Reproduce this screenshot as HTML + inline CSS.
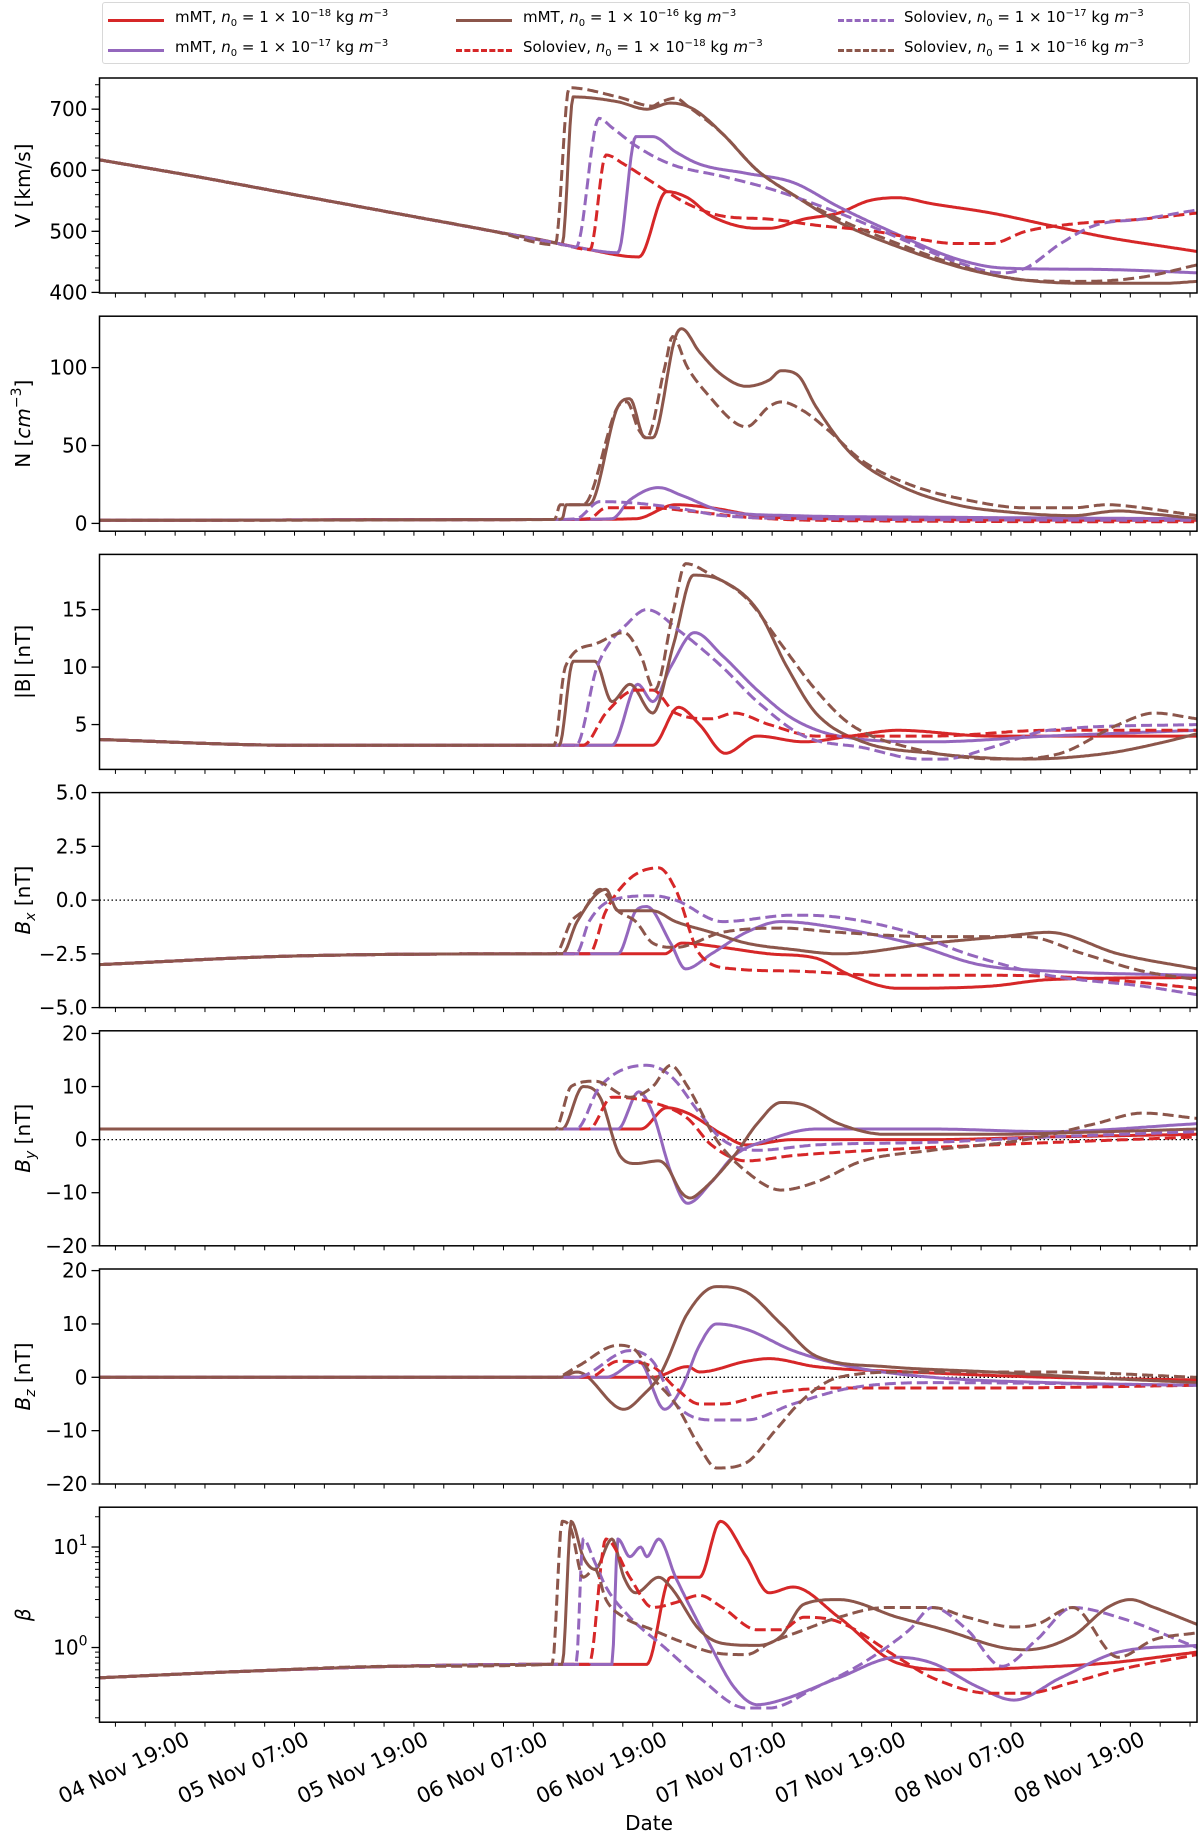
<!DOCTYPE html>
<html><head><meta charset="utf-8">
<style>
html,body{margin:0;padding:0;background:#fff;}
body{width:1200px;height:1836px;position:relative;overflow:hidden;font-family:"DejaVu Sans","Liberation Sans",sans-serif;}
#legend{position:absolute;left:102px;top:2px;width:1088px;height:62px;border:1px solid #d8d8d8;border-radius:3px;box-sizing:border-box;}
.le{position:absolute;font-size:15px;color:#000;white-space:nowrap;}
.ls{position:absolute;width:56px;height:0;border-top:3px solid;}
.le sup{font-size:10px;}
.le sub{font-size:10px;}
</style></head>
<body>
<div id="legend">
  <div class="ls" style="left:5px;top:16px;border-color:#d62728"></div>
  <div class="le" style="left:72px;top:5px">mMT, <i>n</i><sub>0</sub> = 1 × 10<sup>−18</sup> kg <i>m</i><sup>−3</sup></div>
  <div class="ls" style="left:5px;top:46px;border-color:#9467bd"></div>
  <div class="le" style="left:72px;top:35px">mMT, <i>n</i><sub>0</sub> = 1 × 10<sup>−17</sup> kg <i>m</i><sup>−3</sup></div>
  <div class="ls" style="left:353px;top:16px;border-color:#8c564b"></div>
  <div class="le" style="left:420px;top:5px">mMT, <i>n</i><sub>0</sub> = 1 × 10<sup>−16</sup> kg <i>m</i><sup>−3</sup></div>
  <div class="ls" style="left:353px;top:46px;border-color:#d62728;border-top-style:dashed"></div>
  <div class="le" style="left:420px;top:35px">Soloviev, <i>n</i><sub>0</sub> = 1 × 10<sup>−18</sup> kg <i>m</i><sup>−3</sup></div>
  <div class="ls" style="left:735px;top:16px;border-color:#9467bd;border-top-style:dashed"></div>
  <div class="le" style="left:801px;top:5px">Soloviev, <i>n</i><sub>0</sub> = 1 × 10<sup>−17</sup> kg <i>m</i><sup>−3</sup></div>
  <div class="ls" style="left:735px;top:46px;border-color:#8c564b;border-top-style:dashed"></div>
  <div class="le" style="left:801px;top:35px">Soloviev, <i>n</i><sub>0</sub> = 1 × 10<sup>−16</sup> kg <i>m</i><sup>−3</sup></div>
</div>
<svg id="chart" width="1200" height="1836" style="position:absolute;left:0;top:0"></svg>
<script>
// ---- time axis (hours since 04 Nov 00:00) ----
const tMin = 10.4, tMax = 120.7;
const xTickHours = [19,31,43,55,67,79,91,103,115];
const xTickLabels = ["04 Nov 19:00","05 Nov 07:00","05 Nov 19:00","06 Nov 07:00","06 Nov 19:00","07 Nov 07:00","07 Nov 19:00","08 Nov 07:00","08 Nov 19:00"];

// ---- V ----
const vBg = [[10.4,617],[20,590],[30,560],[40,530],[50,500],[56.5,480]];
const vMmt18 = [[59.0,472],[64.6,458],[67.4,565],[69.5,555],[71.9,525],[76.5,505],[77.7,505],[81.2,520],[84.7,530],[87.7,550],[90.6,555],[94.1,545],[100.0,530],[105.8,510],[111.7,490],[117.5,475],[120.7,467]];
const vMmt17 = [[58.3,474],[62.5,465],[64.3,655],[66.0,655],[68.3,630],[70.7,610],[75.4,595],[80.1,580],[84.7,540],[90.6,495],[96.5,455],[101.1,440],[108.2,438],[112.8,437],[120.7,432]];
const vMmt16 = [[56.9,478],[58.0,720],[62.5,712],[65.4,700],[67.8,710],[70.1,700],[73.0,660],[76.5,600],[80.1,560],[84.7,515],[90.6,475],[97.6,438],[103.5,420],[109.3,415],[117.5,415],[120.7,418]];
const vSol18 = [[59.7,470],[61.3,625],[63.1,610],[66.0,580],[69.5,545],[73.0,525],[77.7,520],[82.4,510],[88.3,500],[91.8,490],[96.5,480],[100.0,480],[103.5,500],[108.2,512],[115.2,520],[120.7,530]];
const vSol17 = [[58.3,474],[60.6,685],[61.9,670],[64.3,640],[67.8,610],[73.0,590],[77.7,570],[84.7,530],[90.6,490],[96.5,450],[101.1,432],[103.5,440],[107.0,480],[110.5,510],[115.2,520],[120.7,535]];
const vSol16 = [[56.2,478],[57.6,735],[62.5,720],[66.0,705],[66.6,710],[68.3,718],[69.5,705],[73.0,660],[76.5,600],[80.1,560],[84.7,520],[90.6,480],[97.6,440],[103.5,420],[109.3,418],[115.2,425],[120.7,445]];

// ---- N ----
const nBg = [[10.4,2],[56,2.5]];
const nMmt18 = [[64.3,3],[68.3,12],[71.9,10],[76.5,5],[82.4,3],[120.7,2]];
const nMmt17 = [[61.9,3],[63.7,15],[66.6,23],[68.9,18],[73.0,8],[80.1,5],[94.1,4],[120.7,3]];
const nMmt16 = [[56.9,3],[57.3,12],[59.6,12],[62.5,75],[63.7,80],[65.2,55],[66.0,55],[68.3,120],[68.9,125],[70.7,110],[73.0,95],[75.4,88],[77.7,92],[78.9,98],[80.6,95],[82.4,75],[85.9,45],[90.6,25],[96.5,12],[102.3,7],[108.2,5],[112.8,8],[116.4,6],[120.7,3]];
const nSol18 = [[59.6,3],[61.3,10],[66.0,10],[69.5,8],[75.4,4],[82.4,2],[120.7,1]];
const nSol17 = [[58.3,3],[60.7,14],[64.3,13],[68.3,10],[73.0,5],[82.4,3],[120.7,2]];
const nSol16 = [[56.2,3],[56.7,12],[59.0,12],[62.5,75],[63.4,78],[64.6,60],[65.4,55],[67.2,100],[68.0,120],[69.5,100],[71.9,80],[74.2,65],[75.4,62],[77.7,75],[78.9,78],[81.2,72],[83.6,60],[87.1,40],[91.8,25],[97.6,15],[103.5,10],[108.2,10],[111.7,12],[115.2,10],[120.7,5]];

// ---- |B| ----
const bBg = [[10.4,3.7],[30,3.2],[56,3.2]];
const bMmt18 = [[66.0,3.2],[68.6,6.5],[70.7,5],[73.3,2.5],[76.5,4],[81.2,3.5],[85.9,4],[90.6,4.5],[100.0,4],[120.7,4]];
const bMmt17 = [[61.9,3.2],[64.5,8.5],[66.0,7],[67.8,10],[70.2,13],[73.0,11],[76.5,8],[80.1,5.5],[84.7,4],[94.1,3.5],[105.8,4],[120.7,4.5]];
const bMmt16 = [[56.6,3.2],[58.0,10.5],[60.2,10.5],[61.9,7],[63.7,8.5],[66.0,6],[68.1,12],[70.1,18],[73.0,17.5],[76.5,15],[79.5,10],[82.4,6],[87.1,3.5],[94.1,2.5],[103.5,2],[111.7,2.5],[117.5,3.5],[120.7,4.2]];
const bSol18 = [[59.0,3.2],[61.3,6],[64.3,8],[66.0,8],[68.3,6],[71.9,5.5],[74.2,6],[77.7,5],[82.4,4],[94.1,4],[105.8,4.5],[120.7,4.5]];
const bSol17 = [[58.3,3.2],[60.4,10],[63.7,14],[65.4,15],[68.9,13],[73.0,10],[76.5,7],[81.2,4],[87.1,3],[93.0,2],[95.3,2],[100.0,3],[105.8,4.5],[120.7,5]];
const bSol16 = [[56.1,3.2],[57.2,10],[60.2,12],[63.1,13],[64.8,11],[66.2,8],[68.1,15],[69.3,19],[71.9,18],[75.4,16],[78.9,12],[82.4,8],[85.9,5],[91.8,3],[101.1,2],[107.0,2.5],[112.8,5],[116.4,6],[120.7,5.5]];

// ---- Bx ----
const bxBg = [[10.4,-3.0],[30,-2.6],[56,-2.5]];
const bxMmt18 = [[59.0,-2.5],[64.8,-2.5],[67.2,-2.5],[68.9,-2.0],[73.0,-2.2],[77.7,-2.5],[82.4,-2.7],[85.9,-3.5],[90.6,-4.1],[100.0,-4.0],[105.8,-3.7],[120.7,-3.6]];
const bxMmt17 = [[62.5,-2.5],[64.3,-0.5],[65.4,-0.3],[67.8,-2],[69.3,-3.2],[71.9,-2.5],[75.4,-1.5],[78.9,-1.0],[84.7,-1.3],[91.8,-2],[98.8,-3],[105.8,-3.3],[120.7,-3.5]];
const bxMmt16 = [[56.9,-2.5],[58.4,-1],[61.3,0.5],[62.5,-0.5],[66.0,-0.5],[68.3,-1],[71.9,-1.5],[75.4,-2],[80.1,-2.3],[84.7,-2.5],[94.1,-2.0],[101.1,-1.7],[105.8,-1.5],[112.8,-2.5],[120.7,-3.2]];
const bxSol18 = [[59.6,-2.5],[61.3,-0.5],[63.7,1],[66.6,1.5],[68.3,0.5],[70.7,-2.5],[74.2,-3.2],[80.1,-3.3],[89.4,-3.5],[101.1,-3.5],[111.7,-3.7],[120.7,-4.1]];
const bxSol17 = [[58.3,-2.5],[59.6,-1],[61.9,0],[66.0,0.2],[68.3,0],[73.0,-1],[80.1,-0.7],[84.7,-0.8],[91.8,-1.5],[97.6,-2.5],[105.8,-3.5],[115.2,-4],[120.7,-4.4]];
const bxSol16 = [[56.2,-2.5],[57.8,-1],[59.0,-0.5],[60.7,0.5],[62.5,-0.5],[64.3,-1],[66.0,-2],[68.3,-2.2],[73.0,-1.5],[78.9,-1.3],[84.7,-1.5],[94.1,-1.7],[103.5,-1.7],[109.3,-2.5],[115.2,-3.3],[120.7,-3.7]];

// ---- By ----
const byBg = [[10.4,2],[56,2]];
const byMmt18 = [[64.8,2],[67.4,6],[69.5,5],[73.0,1],[75.4,-1],[80.1,0],[94.1,0],[105.8,0.5],[120.7,1]];
const byMmt17 = [[62.5,2],[64.6,9],[66.0,5],[67.8,-6],[69.5,-12],[71.9,-8],[74.2,-3],[77.7,0],[82.4,2],[94.1,2],[105.8,1.5],[120.7,3]];
const byMmt16 = [[56.9,2],[59.0,10],[60.7,8],[62.7,-3],[64.3,-4.5],[66.6,-4],[67.4,-5],[68.9,-10],[69.8,-11],[70.7,-10],[74.2,-3],[76.5,3],[78.9,7],[81.2,6.5],[84.7,3],[89.4,1],[100.0,1],[111.7,1.5],[120.7,2]];
const bySol18 = [[59.6,2],[61.9,8],[66.0,7],[69.5,4],[71.9,-1],[75.4,-4],[80.1,-3],[88.3,-2],[100.0,-1],[120.7,0.5]];
const bySol17 = [[58.3,2],[60.7,10],[65.4,14],[67.8,12],[70.7,5],[73.0,0],[76.5,-2],[82.4,-1],[94.1,-0.5],[105.8,0.5],[120.7,1.5]];
const bySol16 = [[56.2,2],[57.8,10],[60.2,11],[63.7,8],[66.0,10],[67.8,14],[69.5,10],[72.4,0],[75.4,-6],[78.9,-9.5],[82.4,-8],[87.1,-4],[94.1,-2],[103.5,0],[110.5,3],[115.2,5],[120.7,4]];

// ---- Bz ----
const bzBg = [[10.4,0],[56,0]];
const bzMmt18 = [[66.0,0],[69.5,2],[70.7,1],[75.4,3],[77.7,3.5],[82.4,2],[91.8,1],[105.8,0],[120.7,-0.5]];
const bzMmt17 = [[61.3,0],[64.6,3],[67.2,-6],[68.9,-2],[70.7,6],[72.4,10],[75.4,9],[80.1,5],[85.9,2],[94.1,0],[105.8,-1],[120.7,-1.5]];
const bzMmt16 = [[56.6,0],[58.4,1],[63.1,-6],[65.2,-3],[66.6,0],[67.4,3],[69.5,12],[72.4,17],[75.4,16],[78.9,10],[82.4,4],[89.4,2],[100.0,1],[109.3,0],[120.7,-1]];
const bzSol18 = [[59.6,0],[62.5,3],[66.0,2],[68.3,-2],[70.7,-5],[73.0,-5],[77.7,-3],[84.7,-2],[100.0,-2],[120.7,-1.5]];
const bzSol17 = [[58.3,0],[63.7,5],[66.0,3],[68.3,-5],[71.9,-8],[75.4,-8],[80.1,-5],[85.9,-2],[94.1,-1],[120.7,-1.5]];
const bzSol16 = [[56.2,0],[58.4,2],[62.5,6],[64.3,5],[66.0,0],[68.3,-5],[70.7,-13],[72.4,-17],[75.4,-16],[78.3,-10],[81.2,-4],[84.7,0],[91.8,1],[105.8,1],[120.7,0]];

// ---- beta ----
const beBg = [[10.4,0.5],[25,0.58],[40,0.65],[55.9,0.68]];
const beMmt18 = [[65.4,0.68],[67.8,5],[70.7,5],[72.8,18],[75.4,8],[77.7,3.5],[80.1,4],[84.7,2],[90.6,0.7],[96.5,0.6],[103.5,0.63],[111.7,0.7],[120.7,0.9]];
const beMmt17 = [[61.9,0.68],[62.5,12],[63.7,8],[64.8,10],[65.4,8],[66.6,12],[68.3,5],[71.9,1],[74.2,0.4],[76.5,0.27],[78.9,0.3],[84.7,0.5],[90.6,0.8],[94.1,0.7],[98.8,0.4],[102.3,0.3],[107.0,0.5],[112.8,0.9],[120.7,1.05]];
const beMmt16 = [[56.9,0.68],[57.8,18],[59.0,8],[60.2,6],[61.9,12],[63.1,5],[64.3,3.5],[66.6,5],[67.8,4],[70.7,1.5],[73.0,1.1],[76.5,1.05],[78.9,1.3],[81.2,2.7],[84.7,3],[90.6,2],[95.3,1.5],[101.1,1.0],[103.5,0.95],[108.2,1.3],[111.7,2.5],[114.0,3],[116.4,2.5],[120.7,1.7]];
const beSol18 = [[59.6,0.68],[61.3,12],[63.7,5],[66.0,2.5],[68.3,2.8],[70.7,3.3],[73.0,2.5],[76.5,1.5],[78.9,1.5],[81.2,2],[84.7,1.8],[90.6,0.8],[94.1,0.5],[100.0,0.35],[103.5,0.35],[108.2,0.45],[112.8,0.6],[120.7,0.85]];
const beSol17 = [[58.3,0.68],[59.0,12],[60.2,7],[61.3,4],[63.7,2],[67.2,1],[70.7,0.5],[75.4,0.25],[77.7,0.25],[82.4,0.4],[87.1,0.7],[91.8,1.5],[94.1,2.5],[97.6,1.5],[101.1,0.65],[104.6,1.2],[108.2,2.5],[112.8,2],[120.7,1.0]];
const beSol16 = [[55.9,0.68],[56.9,18],[57.8,15],[59.0,5],[60.2,6],[61.3,3],[63.1,2],[66.0,1.5],[68.3,1.2],[71.9,0.9],[75.4,0.85],[77.7,1.1],[81.2,1.5],[84.7,2],[89.4,2.5],[94.1,2.5],[97.6,2],[102.3,1.6],[104.6,1.7],[108.2,2.5],[112.8,0.8],[116.4,1.2],[120.7,1.4]];

const NS = "http://www.w3.org/2000/svg";
const svg = document.getElementById('chart');
const X0 = 99.5, X1 = 1197;
const COLORS = {r:"#d62728", p:"#9467bd", b:"#8c564b"};
function el(tag, attrs, parent){
  const e = document.createElementNS(NS, tag);
  for (const k in attrs) e.setAttribute(k, attrs[k]);
  (parent||svg).appendChild(e);
  return e;
}
function xOf(t){ return X0 + (t - tMin)/(tMax - tMin)*(X1 - X0); }

function monotone(pts){
  const n = pts.length, xs = pts.map(p=>p[0]), ys = pts.map(p=>p[1]);
  const d = [], m = new Array(n);
  for (let i=0;i<n-1;i++) d.push((ys[i+1]-ys[i])/(xs[i+1]-xs[i]));
  m[0]=d[0]; m[n-1]=d[n-2];
  for (let i=1;i<n-1;i++){ m[i] = (d[i-1]*d[i]<=0)?0:(d[i-1]+d[i])/2; }
  for (let i=0;i<n-1;i++){
    if (d[i]===0){ m[i]=0; m[i+1]=0; continue; }
    const a=m[i]/d[i], b=m[i+1]/d[i], s=a*a+b*b;
    if (s>9){ const tau=3/Math.sqrt(s); m[i]=tau*a*d[i]; m[i+1]=tau*b*d[i]; }
  }
  const out=[];
  for (let i=0;i<n-1;i++){
    const h=xs[i+1]-xs[i], steps=Math.max(4, Math.ceil(h*6));
    for (let k=0;k<steps;k++){
      const u=k/steps, u2=u*u, u3=u2*u;
      const y=(2*u3-3*u2+1)*ys[i]+(u3-2*u2+u)*h*m[i]+(-2*u3+3*u2)*ys[i+1]+(u3-u2)*h*m[i+1];
      out.push([xs[i]+u*h, y]);
    }
  }
  out.push([xs[n-1], ys[n-1]]);
  return out;
}

function panel(idx, opts){
  const top = 78 + 238.2*idx, h = 215, bot = top + h;
  const g = el('g', {});
  
  
  const tr = opts.log ? v=>Math.log10(v) : v=>v;
  const yOf = v => bot - (tr(v) - opts.dom[0])/(opts.dom[1]-opts.dom[0])*h;
  const clip = el('clipPath', {id:'clip'+idx}, g);
  el('rect', {x:X0, y:top, width:X1-X0, height:h}, clip);
  if (opts.zero){
    const z = el('line', {x1:X0, x2:X1, y1:yOf(0), y2:yOf(0), stroke:'#000', 'stroke-width':1.3, 'stroke-dasharray':'1.5,2.5'}, g);
    
    
  }
  const series = [
    [opts.s[0], 'r', false, 'mmt-18'], [opts.s[1], 'p', false, 'mmt-17'], [opts.s[2], 'b', false, 'mmt-16'],
    [opts.s[3], 'r', true, 'sol-18'], [opts.s[4], 'p', true, 'sol-17'], [opts.s[5], 'b', true, 'sol-16']
  ];
  const cg = el('g', {'clip-path':'url(#clip'+idx+')'}, g);
  series.forEach(([data, c, dash, nm])=>{
    const pts = opts.bg.filter(p=>p[0] < data[0][0]).concat(data);
    const tp = pts.map(p=>[p[0], tr(p[1])]);
    const sm = monotone(tp);
    const dstr = sm.map((p,i)=>(i?'L':'M')+xOf(p[0]).toFixed(1)+','+(bot-(p[1]-opts.dom[0])/(opts.dom[1]-opts.dom[0])*h).toFixed(1)).join('');
    const path = el('path', {d:dstr, fill:'none', stroke:COLORS[c], 'stroke-width':3, 'stroke-linejoin':'round', 'stroke-dasharray': dash ? '11,5' : 'none'}, cg);
    
    
  });
  const frame = el('rect', {x:X0, y:top, width:X1-X0, height:h, fill:'none', stroke:'#000', 'stroke-width':1.5}, g);
  
  
  // y ticks
  opts.ticks.forEach((v,i)=>{
    const y = yOf(v);
    el('line', {x1:X0-8, x2:X0, y1:y, y2:y, stroke:'#000', 'stroke-width':1.3}, g);
    const t = el('text', {x:X0-12, y:y+7, 'text-anchor':'end', 'font-size':20, fill:'#000'}, g);
    
    
    if (opts.log){
      t.textContent = '10';
      const s = el('tspan', {dy:-9, 'font-size':14}, t);
      s.textContent = String(Math.round(Math.log10(v)));
    } else t.textContent = opts.labels[i];
  });
  (opts.minor||[]).forEach(v=>{
    const y = yOf(v);
    el('line', {x1:X0-4.5, x2:X0, y1:y, y2:y, stroke:'#000', 'stroke-width':1}, g);
  });
  // x ticks
  for (let t=12; t<=tMax; t+=3){
    if (t < tMin) continue;
    const major = xTickHours.indexOf(t) >= 0;
    el('line', {x1:xOf(t), x2:xOf(t), y1:bot, y2:bot+(major?8:4.5), stroke:'#000', 'stroke-width':major?1.3:1}, g);
  }
  // y label
  const yl = el('text', {transform:'translate('+(opts.lx||30)+','+(top+h/2)+') rotate(-90)', 'text-anchor':'middle', 'font-size':20, fill:'#000'}, g);
  
  
  opts.label(yl);
  return bot;
}
function tsp(parent, txt, attrs){ const s = el('tspan', attrs||{}, parent); s.textContent = txt; return s; }
function range(a,b,s){ const r=[]; for(let v=a; v<=b+1e-9; v+=s) r.push(+v.toFixed(4)); return r; }

panel(0, {name:'v', dom:[399,751], bg:vBg, s:[vMmt18,vMmt17,vMmt16,vSol18,vSol17,vSol16],
  ticks:[400,500,600,700], labels:['400','500','600','700'], minor:range(420,740,20),
  label: t=>{ t.textContent='V [km/s]'; }});
panel(1, {name:'n', dom:[-5,133], bg:nBg, s:[nMmt18,nMmt17,nMmt16,nSol18,nSol17,nSol16],
  ticks:[0,50,100], labels:['0','50','100'],
  label: t=>{ tsp(t,'N ['); tsp(t,'cm',{'font-style':'italic'}); tsp(t,'−3',{dy:-9,'font-size':14}); tsp(t,']',{dy:9}); }});
panel(2, {name:'b-magnitude', dom:[1.1,19.8], bg:bBg, s:[bMmt18,bMmt17,bMmt16,bSol18,bSol17,bSol16],
  ticks:[5,10,15], labels:['5','10','15'],
  label: t=>{ t.textContent='|B| [nT]'; }});
const subLabel = c => t=>{ tsp(t,'B',{'font-style':'italic'}); tsp(t,c,{dy:5,'font-size':14,'font-style':'italic'}); tsp(t,' [nT]',{dy:-5}); };
panel(3, {name:'bx', dom:[-5,5], bg:bxBg, s:[bxMmt18,bxMmt17,bxMmt16,bxSol18,bxSol17,bxSol16], zero:true,
  ticks:[-5,-2.5,0,2.5,5], labels:['−5.0','−2.5','0.0','2.5','5.0'], label: subLabel('x')});
panel(4, {name:'by', dom:[-20,20.5], bg:byBg, s:[byMmt18,byMmt17,byMmt16,bySol18,bySol17,bySol16], zero:true,
  ticks:[-20,-10,0,10,20], labels:['−20','−10','0','10','20'], label: subLabel('y')});
panel(5, {name:'bz', dom:[-20,20.3], bg:bzBg, s:[bzMmt18,bzMmt17,bzMmt16,bzSol18,bzSol17,bzSol16], zero:true,
  ticks:[-20,-10,0,10,20], labels:['−20','−10','0','10','20'], label: subLabel('z')});
const logMinor = [0.2,0.3,0.4,0.5,0.6,0.7,0.8,0.9,2,3,4,5,6,7,8,9,20];
const bot = panel(6, {name:'beta', dom:[-0.743,1.396], log:true, bg:beBg, s:[beMmt18,beMmt17,beMmt16,beSol18,beSol17,beSol16],
  ticks:[1,10], minor:logMinor, label: t=>{ tsp(t,'β',{'font-style':'italic'}); }});

// x tick labels
xTickHours.forEach((t,i)=>{
  const x = xOf(t);
  const tx = el('text', {transform:'translate('+(x+6)+','+(bot+22)+') rotate(-25)', 'text-anchor':'end', 'font-size':21, fill:'#000'});
  
  
  tx.textContent = xTickLabels[i];
});
const dl = el('text', {x:649, y:1830, 'text-anchor':'middle', 'font-size':20, fill:'#000'});


dl.textContent = 'Date';
</script>
</body></html>
